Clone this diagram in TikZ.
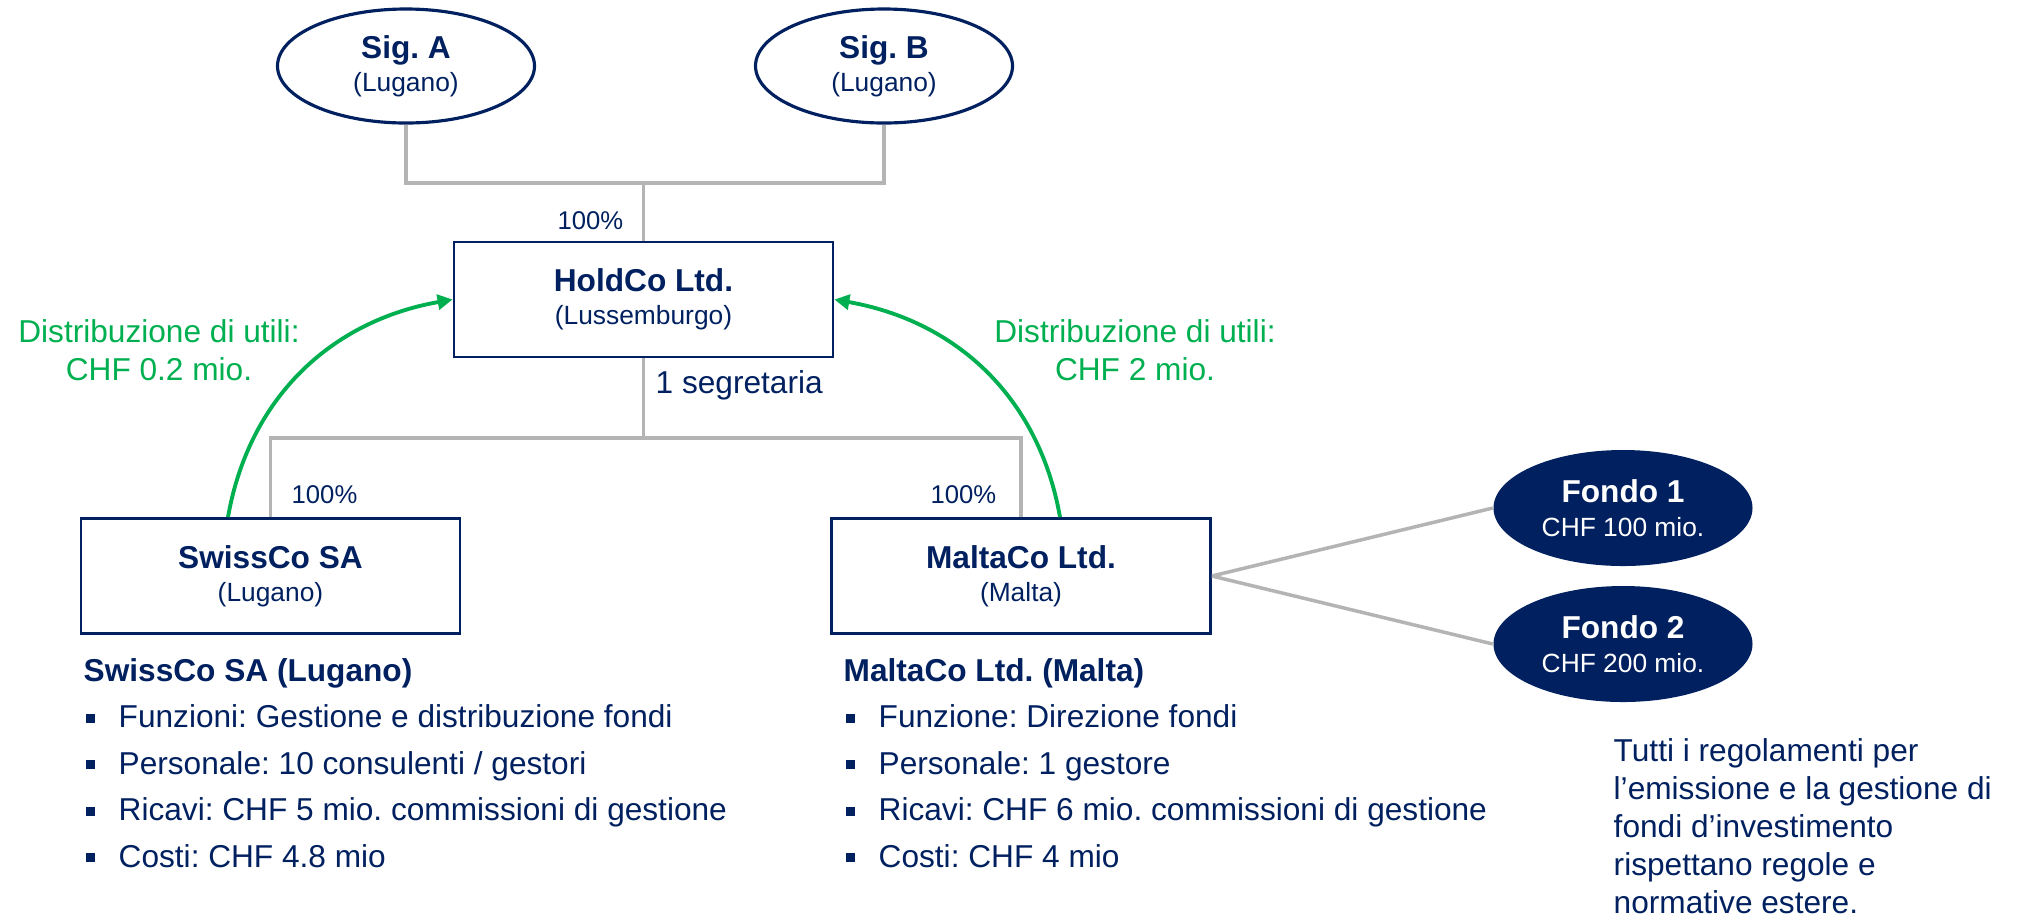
\documentclass[tikz,border=0pt]{standalone}
\usepackage{fontspec}
\setmainfont{Liberation Sans}
\usetikzlibrary{shapes.geometric,arrows.meta}
\definecolor{blu}{HTML}{002060}
\definecolor{verde}{HTML}{00B050}
\definecolor{grigio}{HTML}{B4B4B4}
\frenchspacing
\newcommand{\luogo}[1]{{\fontsize{7.5}{9.4}\selectfont #1}}
\newcommand{\punto}{\makebox[3.5mm][l]{\hspace{0.2mm}\rule[0.5mm]{0.9mm}{0.9mm}}}

\begin{document}
\begin{tikzpicture}
\tikzset{socio/.style={draw=blu, line width=0.9pt, ellipse, inner sep=0pt, minimum width=2.57cm, minimum height=1.14cm, align=center, text=blu, font=\fontsize{9}{9.4}\selectfont},
societa/.style={draw=blu, line width=0.8pt, inner sep=0pt, minimum width=3.79cm, minimum height=1.15cm, align=center, text=blu, font=\fontsize{9}{9.4}\selectfont},
fondo/.style={fill=blu, ellipse, inner sep=0pt, minimum width=2.59cm, minimum height=1.16cm, align=center, text=white, font=\fontsize{9}{9.6}\selectfont},
quota/.style={text=blu, inner sep=0pt, font=\fontsize{7.3}{9}\selectfont},
utile/.style={text=verde, align=center, inner sep=0pt, font=\fontsize{9}{10.8}\selectfont},
legame/.style={grigio, line width=1pt},
flusso/.style={verde, line width=1.1pt, -{Triangle[length=1.5mm, width=1.5mm]}},
scheda/.style={text=blu, align=left, inner sep=0pt, anchor=base west, font=\fontsize{9}{13.2}\selectfont}}
\useasboundingbox (0,0) rectangle (20.18,-9.17);
% soci e societa
\node[socio] (SA) at (4.06,-0.66) {\textbf{Sig. A}\\\luogo{(Lugano)}};
\node[socio] (SB) at (8.84,-0.66) {\textbf{Sig. B}\\\luogo{(Lugano)}};
\node[societa] (Hold) at (6.435,-2.995) {\textbf{HoldCo Ltd.}\\\luogo{(Lussemburgo)}};
\node[societa] (Swiss) at (2.705,-5.76) {\textbf{SwissCo SA}\\\luogo{(Lugano)}};
\node[societa] (Malta) at (10.21,-5.76) {\textbf{MaltaCo Ltd.}\\\luogo{(Malta)}};
\node[fondo] (F1) at (16.23,-5.08) {\textbf{Fondo 1}\\\luogo{CHF 100 mio.}};
\node[fondo] (F2) at (16.23,-6.44) {\textbf{Fondo 2}\\\luogo{CHF 200 mio.}};
\coordinate (J1) at (6.435,-1.83);
\coordinate (J2) at (6.435,-4.38);
% partecipazioni
\draw[legame] (SA.south) |- (J1);
\draw[legame] (SB.south) |- (J1);
\draw[legame] (J1) -- (Hold.north);
\draw[legame] (Hold.south) -- (J2);
\draw[legame] (J2) -| (Swiss.north);
\draw[legame] (J2) -| (Malta.north);
\draw[legame] (Malta.east) -- (F1.west);
\draw[legame] (Malta.east) -- (F2.west);
\node[quota, anchor=base east] (Q1) at (6.24,-2.29) {100\%};
\node[quota, anchor=base west] (Q2) at (2.91,-5.03) {100\%};
\node[quota, anchor=base east] (Q3) at (9.97,-5.03) {100\%};
\node[text=blu, inner sep=0pt, anchor=base west, font=\fontsize{9}{10}\selectfont] (Seg) at (6.55,-3.93) {1 segretaria};
% utili
\draw[flusso] ([xshift=-4.25mm]Swiss.north) to[out=80, in=190] (Hold.west);
\draw[flusso] ([xshift=3.9mm]Malta.north) to[out=100, in=-10] (Hold.east);
\node[utile] (U1) at (1.59,-3.50) {Distribuzione di utili:\\CHF 0.2 mio.};
\node[utile] (U2) at (11.35,-3.50) {Distribuzione di utili:\\CHF 2 mio.};
% descrizioni (base = ultima riga)
\node[scheda] (DS) at (0.83,-8.67) {\textbf{SwissCo SA (Lugano)}\\
\punto Funzioni: Gestione e distribuzione fondi\\
\punto Personale: 10 consulenti / gestori\\
\punto Ricavi: CHF 5 mio. commissioni di gestione\\
\punto Costi: CHF 4.8 mio};
\node[scheda] (DM) at (8.43,-8.67) {\textbf{MaltaCo Ltd. (Malta)}\\
\punto Funzione: Direzione fondi\\
\punto Personale: 1 gestore\\
\punto Ricavi: CHF 6 mio. commissioni di gestione\\
\punto Costi: CHF 4 mio};
\node[scheda, font=\fontsize{9}{10.8}\selectfont] (Nota) at (16.13,-9.13) {Tutti i regolamenti per\\
l’emissione e la gestione di\\
fondi d’investimento\\
rispettano regole e\\
normative estere.};
\end{tikzpicture}
\end{document}
